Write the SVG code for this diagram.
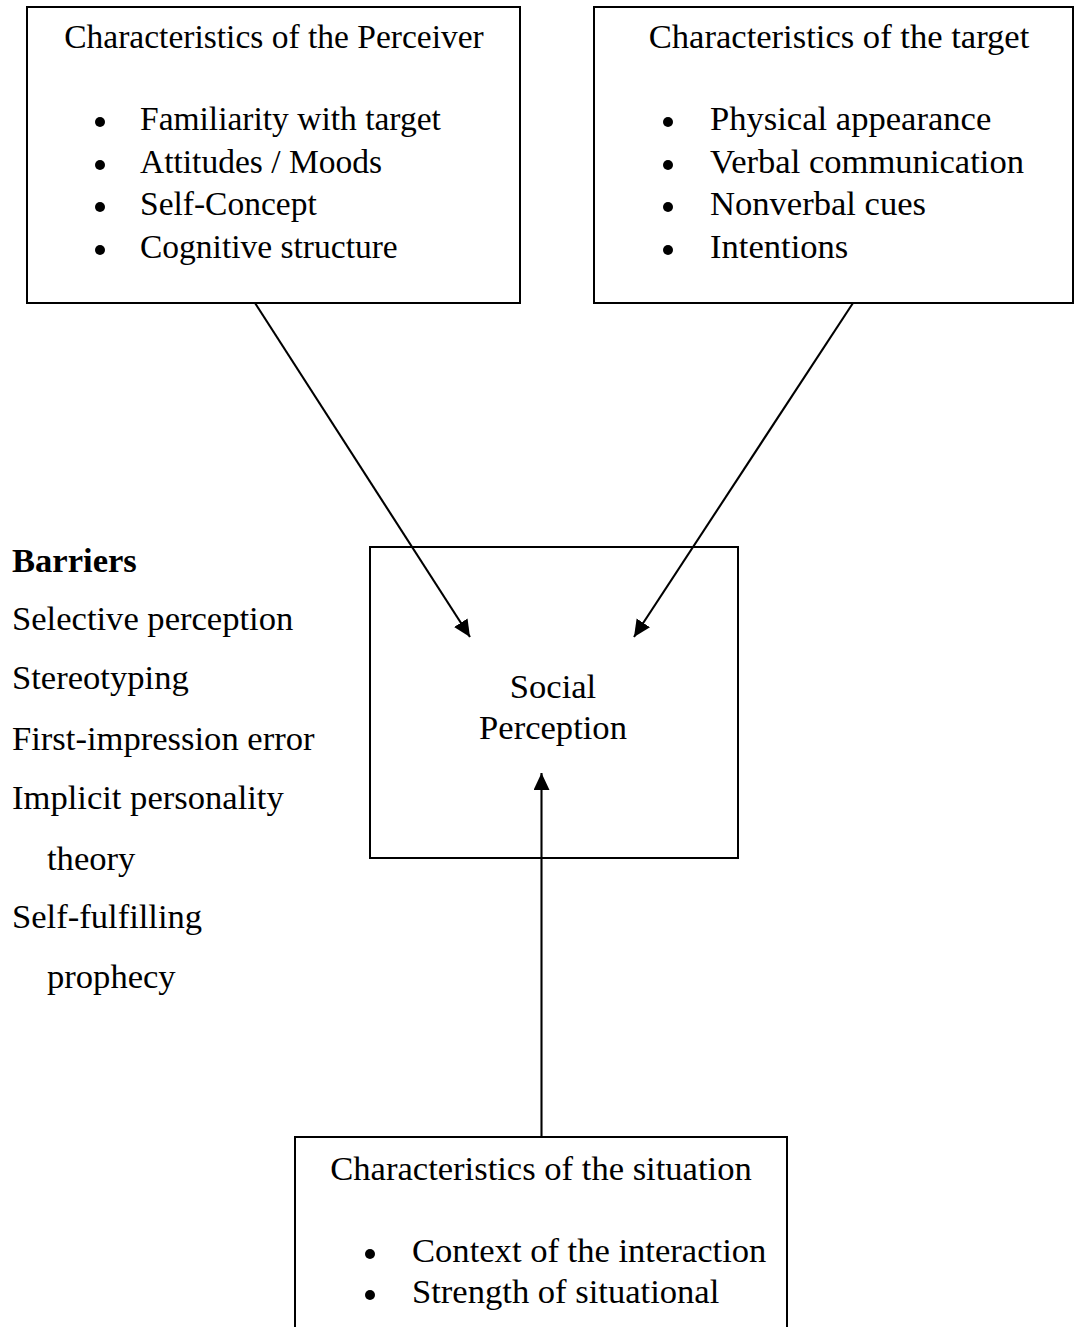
<svg xmlns="http://www.w3.org/2000/svg" width="1075" height="1327" viewBox="0 0 1075 1327">
<style>
.box{fill:#fff;stroke:#000;stroke-width:2}
.t{font-family:"Liberation Serif","Times New Roman",serif;font-size:34.6px;fill:#000}
.s{font-size:33.5px}
.b{font-weight:bold}
.m{text-anchor:middle}
.dot{fill:#000}
.c{stroke:#000;stroke-width:2.1;fill:none}
</style>
<defs>
<marker id="ah" markerUnits="userSpaceOnUse" markerWidth="19" markerHeight="17" refX="17" refY="8" orient="auto">
<path d="M0,0 L17,8 L0,16 z" fill="#000"/>
</marker>
</defs>
<rect width="1075" height="1327" fill="#fff"/>
<g id="perceiver">
<rect class="box" x="27" y="7" width="493" height="296"/>
<text class="t s m" x="274" y="48">Characteristics of the Perceiver</text>
<circle class="dot" cx="100" cy="122" r="5"/>
<text class="t s" x="140" y="130">Familiarity with target</text>
<circle class="dot" cx="100" cy="165" r="5"/>
<text class="t s" x="140" y="173">Attitudes / Moods</text>
<circle class="dot" cx="100" cy="207" r="5"/>
<text class="t s" x="140" y="215">Self-Concept</text>
<circle class="dot" cx="100" cy="250" r="5"/>
<text class="t s" x="140" y="258">Cognitive structure</text>
</g>
<g id="target">
<rect class="box" x="594" y="7" width="479" height="296"/>
<text class="t m" x="839" y="48">Characteristics of the target</text>
<circle class="dot" cx="668" cy="122" r="5"/>
<text class="t" x="710" y="130">Physical appearance</text>
<circle class="dot" cx="668" cy="165" r="5"/>
<text class="t" x="710" y="173">Verbal communication</text>
<circle class="dot" cx="668" cy="207" r="5"/>
<text class="t" x="710" y="215">Nonverbal cues</text>
<circle class="dot" cx="668" cy="250" r="5"/>
<text class="t" x="710" y="258">Intentions</text>
</g>
<g id="social-perception">
<rect class="box" x="370" y="547" width="368" height="311"/>
<text class="t m" x="553" y="698">Social</text>
<text class="t m" x="553" y="739">Perception</text>
</g>
<g id="barriers">
<text class="t b" x="12" y="572">Barriers</text>
<text class="t" x="12" y="630">Selective perception</text>
<text class="t" x="12" y="689">Stereotyping</text>
<text class="t" x="12" y="750">First-impression error</text>
<text class="t" x="12" y="809">Implicit personality</text>
<text class="t" x="47" y="870">theory</text>
<text class="t" x="12" y="928">Self-fulfilling</text>
<text class="t" x="47" y="988">prophecy</text>
</g>
<g id="situation">
<rect class="box" x="295" y="1137" width="492" height="200"/>
<text class="t m" x="541" y="1180">Characteristics of the situation</text>
<circle class="dot" cx="370" cy="1254" r="5"/>
<text class="t" x="412" y="1262">Context of the interaction</text>
<circle class="dot" cx="370" cy="1295" r="5"/>
<text class="t" x="412" y="1303">Strength of situational</text>
</g>
<g id="connectors">
<line class="c" x1="255" y1="303" x2="470" y2="637" marker-end="url(#ah)"/>
<line class="c" x1="853" y1="303" x2="634" y2="637" marker-end="url(#ah)"/>
<line class="c" x1="541.5" y1="1137" x2="541.5" y2="773" stroke-width="2.6" marker-end="url(#ah)"/>
</g>
</svg>
